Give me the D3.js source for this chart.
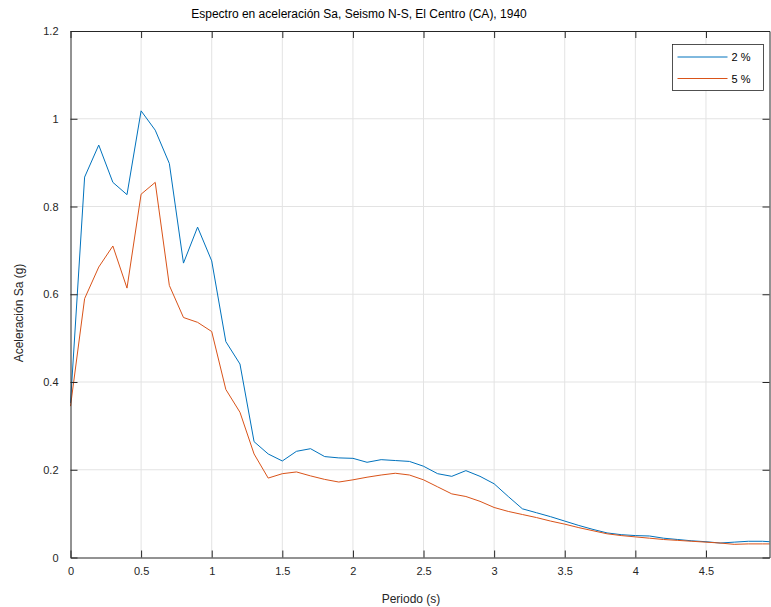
<!DOCTYPE html>
<html>
<head>
<meta charset="utf-8">
<script src="https://cdn.jsdelivr.net/npm/d3@7"></script>
<style>
  body { margin: 0; background: #fff; }
  svg { display: block; font-family: "Liberation Sans", Arial, sans-serif; }
  .grid line { stroke: #e3e3e3; stroke-width: 1; }
  .axis path, .axis line { stroke: #262626; }
  .axis text { fill: #262626; font-size: 11px; }
</style>
</head>
<body>
<div id="chart"></div>
<script>
// periodos (s)
const periods = [0, 0.1, 0.2, 0.3, 0.4, 0.5, 0.6, 0.7, 0.8, 0.9,
  1.0, 1.1, 1.2, 1.3, 1.4, 1.5, 1.6, 1.7, 1.8, 1.9,
  2.0, 2.1, 2.2, 2.3, 2.4, 2.5, 2.6, 2.7, 2.8, 2.9,
  3.0, 3.1, 3.2, 3.3, 3.4, 3.5, 3.6, 3.7, 3.8, 3.9,
  4.0, 4.1, 4.2, 4.3, 4.4, 4.5, 4.6, 4.7, 4.8, 4.9, 4.95];

// Sa (g), amortiguamiento 2 %
const sa2 = [0.352, 0.867, 0.940, 0.855, 0.827, 1.018, 0.974, 0.898, 0.671, 0.753,
  0.676, 0.492, 0.441, 0.264, 0.236, 0.220, 0.242, 0.248, 0.230, 0.227,
  0.226, 0.217, 0.223, 0.221, 0.219, 0.208, 0.191, 0.185, 0.198, 0.185,
  0.168, 0.139, 0.111, 0.102, 0.093, 0.083, 0.073, 0.064, 0.056, 0.052,
  0.050, 0.049, 0.044, 0.041, 0.038, 0.036, 0.033, 0.035, 0.037, 0.037, 0.036];

// Sa (g), amortiguamiento 5 %
const sa5 = [0.345, 0.590, 0.662, 0.710, 0.614, 0.828, 0.855, 0.620, 0.547, 0.536,
  0.515, 0.383, 0.331, 0.236, 0.181, 0.191, 0.195, 0.186, 0.178, 0.172,
  0.177, 0.183, 0.188, 0.192, 0.188, 0.177, 0.161, 0.145, 0.139, 0.128,
  0.114, 0.105, 0.098, 0.091, 0.083, 0.076, 0.068, 0.061, 0.054, 0.050,
  0.047, 0.044, 0.041, 0.039, 0.037, 0.035, 0.033, 0.030, 0.031, 0.031, 0.031];

const seriesNames = ["2 %", "5 %"];
const seriesColors = ["#0072BD", "#D95319"];
const xTicks = [0, 0.5, 1, 1.5, 2, 2.5, 3, 3.5, 4, 4.5];
const yTicks = [0, 0.2, 0.4, 0.6, 0.8, 1, 1.2];

const W = 771, H = 607;
const m = { left: 70.5, right: 1.5, top: 31, bottom: 49.5 };
const iw = W - m.left - m.right, ih = H - m.top - m.bottom;

const svg = d3.select("#chart").append("svg")
  .attr("width", W).attr("height", H);

const x = d3.scaleLinear().domain([0, 4.95]).range([0, iw]);
const y = d3.scaleLinear().domain([0, 1.2]).range([ih, 0]);
const fmt = d3.format("~g");

const g = svg.append("g").attr("transform", `translate(${m.left},${m.top})`);

// grid
const grid = g.append("g").attr("class", "grid");
grid.selectAll(".gx").data(xTicks.slice(1)).join("line")
  .attr("x1", d => x(d)).attr("x2", d => x(d))
  .attr("y1", 0).attr("y2", ih);
grid.selectAll(".gy").data(yTicks.slice(1, -1)).join("line")
  .attr("x1", 0).attr("x2", iw)
  .attr("y1", d => y(d)).attr("y2", d => y(d));

// lines
const line = d3.line().x(d => x(d[0])).y(d => y(d[1]));
[sa2, sa5].forEach((vals, i) => {
  g.append("path")
    .datum(periods.map((p, j) => [p, vals[j]]))
    .attr("fill", "none")
    .attr("stroke", seriesColors[i])
    .attr("stroke-width", 1)
    .attr("d", line);
});

// axes (box on, ticks inside)
const tk = 7;
g.append("g").attr("class", "axis").attr("transform", `translate(0,${ih})`)
  .call(d3.axisBottom(x).tickValues(xTicks).tickFormat(fmt).tickSizeInner(-tk).tickSizeOuter(0).tickPadding(10));
g.append("g").attr("class", "axis")
  .call(d3.axisTop(x).tickValues(xTicks).tickFormat("").tickSizeInner(-tk).tickSizeOuter(0));
g.append("g").attr("class", "axis")
  .call(d3.axisLeft(y).tickValues(yTicks).tickFormat(fmt).tickSizeInner(-tk).tickSizeOuter(0).tickPadding(12));
g.append("g").attr("class", "axis").attr("transform", `translate(${iw},0)`)
  .call(d3.axisRight(y).tickValues(yTicks).tickFormat("").tickSizeInner(-tk).tickSizeOuter(0));

// titles
svg.append("text")
  .attr("x", 359).attr("y", 18)
  .attr("text-anchor", "middle")
  .attr("font-size", 12).attr("fill", "#000")
  .text("Espectro en aceleración Sa, Seismo N-S, El Centro (CA), 1940");

svg.append("text")
  .attr("x", 411).attr("y", 603)
  .attr("text-anchor", "middle")
  .attr("font-size", 12).attr("fill", "#262626")
  .text("Periodo (s)");

svg.append("text")
  .attr("transform", "translate(23,313) rotate(-90)")
  .attr("text-anchor", "middle")
  .attr("font-size", 12).attr("fill", "#262626")
  .text("Aceleración Sa (g)");

// legend
const lg = svg.append("g").attr("transform", "translate(672.5,44.5)");
lg.append("rect").attr("width", 91).attr("height", 46)
  .attr("fill", "#fff").attr("stroke", "#262626").attr("stroke-width", 0.8);
seriesNames.forEach((name, i) => {
  const yy = 12.5 + i * 21.5;
  lg.append("line").attr("x1", 5).attr("x2", 55).attr("y1", yy).attr("y2", yy)
    .attr("stroke", seriesColors[i]).attr("stroke-width", 1);
  lg.append("text").attr("x", 59).attr("y", yy + 4)
    .attr("font-size", 11).attr("fill", "#000").text(name);
});
</script>
</body>
</html>
